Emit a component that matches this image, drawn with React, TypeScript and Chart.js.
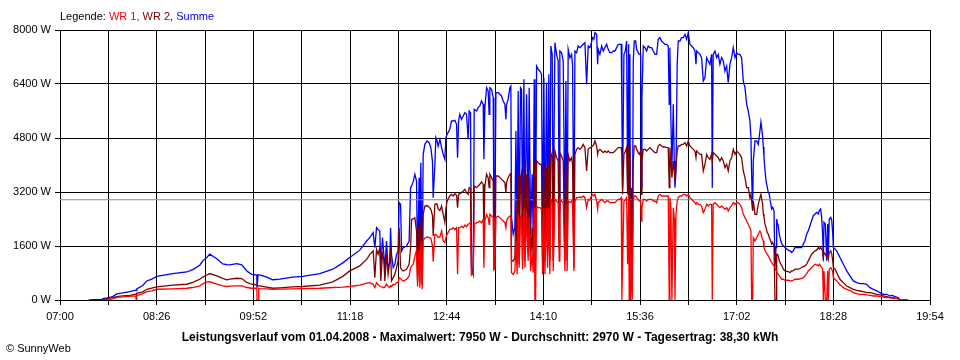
import React, { useEffect, useRef } from "react";
import { Chart, registerables } from "chart.js";

Chart.register(...registerables);

// Time of day in minutes since midnight
const TIMES = [
  445.5, 457.1, 458.9, 462.4, 466.9, 470.5, 475.8, 482.0, 487.4, 487.8,
  488.3, 493.6, 497.2, 501.6, 506.1, 520.3, 532.8, 538.1, 544.3, 547.0,
  550.6, 553.2, 559.5, 564.8, 568.4, 571.0, 577.3, 581.7, 586.2, 590.6,
  595.1, 595.3, 596.2, 596.8, 597.7, 603.9, 609.3, 615.5, 627.1, 636.0,
  651.1, 662.7, 671.6, 677.8, 686.7, 693.0, 695.6, 698.6, 700.1, 701.6,
  703.0, 704.5, 705.4, 706.9, 708.1, 709.0, 710.5, 711.9, 713.4, 714.1,
  714.9, 716.4, 717.9, 719.4, 720.8, 721.7, 723.0, 723.9, 725.3, 728.3,
  730.6, 731.9, 732.8, 734.2, 735.7, 737.2, 738.1, 739.5, 740.1, 741.0,
  742.2, 743.1, 744.6, 746.6, 748.4, 749.9, 751.4, 752.0, 753.5, 754.4,
  755.5, 756.4, 758.0, 759.5, 760.9, 762.4, 763.3, 764.4, 766.8, 768.3,
  769.8, 771.3, 772.8, 773.7, 774.6, 775.7, 777.2, 778.7, 780.2, 781.7,
  783.1, 784.0, 785.2, 786.1, 787.6, 788.5, 790.6, 792.0, 793.5, 795.0,
  796.5, 797.1, 798.0, 799.5, 800.9, 801.8, 802.4, 803.9, 805.4, 806.0,
  806.9, 807.8, 809.8, 811.3, 812.8, 814.3, 815.8, 816.7, 817.3, 818.7,
  820.2, 821.1, 821.7, 823.2, 824.7, 825.6, 826.7, 827.6, 828.5, 829.7,
  830.6, 831.5, 832.7, 833.6, 835.1, 836.5, 837.4, 838.7, 840.1, 841.0,
  841.9, 842.5, 843.1, 844.0, 845.4, 846.9, 848.4, 849.3, 850.5, 851.4,
  852.9, 853.8, 854.9, 855.8, 856.7, 857.9, 858.8, 860.3, 861.8, 863.2,
  864.1, 864.7, 866.2, 867.7, 869.2, 870.1, 871.2, 872.1, 873.6, 875.1,
  876.0, 877.2, 878.1, 879.6, 881.0, 882.5, 884.0, 885.5, 887.0, 888.5,
  889.9, 891.4, 892.1, 893.8, 895.0, 895.9, 897.4, 898.3, 898.8, 900.3,
  901.9, 903.3, 904.8, 906.3, 907.7, 909.2, 910.7, 912.2, 913.7, 915.2,
  916.6, 918.1, 919.3, 919.9, 920.5, 921.7, 922.9, 924.1, 925.0, 925.9,
  926.4, 927.0, 927.6, 928.5, 929.1, 930.0, 930.9, 932.1, 933.0, 934.4,
  935.3, 936.6, 937.1, 937.7, 938.9, 940.4, 941.9, 943.3, 944.8, 946.4,
  947.8, 949.3, 950.8, 952.2, 953.7, 955.2, 956.7, 958.2, 959.7, 961.1,
  962.0, 962.6, 963.5, 964.4, 965.6, 966.5, 967.1, 968.0, 969.1, 970.0,
  971.5, 973.0, 974.5, 976.0, 977.5, 978.9, 980.4, 981.9, 983.4, 984.9,
  985.8, 986.4, 987.8, 989.3, 990.8, 992.3, 993.8, 995.3, 996.7, 998.2,
  999.7, 1000.3, 1001.1, 1002.7, 1004.2, 1005.6, 1007.1, 1008.6, 1010.1, 1011.6,
  1013.1, 1014.5, 1016.0, 1017.5, 1019.0, 1020.5, 1022.0, 1023.4, 1024.9, 1026.4,
  1027.9, 1029.4, 1030.9, 1032.3, 1033.8, 1034.7, 1035.3, 1036.2, 1036.8, 1038.3,
  1039.8, 1041.2, 1042.7, 1043.6, 1044.5, 1045.1, 1045.7, 1046.3, 1047.2, 1048.1,
  1049.2, 1050.1, 1051.0, 1052.3, 1053.1, 1054.0, 1055.2, 1056.1, 1057.0, 1057.6,
  1058.1, 1059.0, 1059.9, 1061.2, 1062.3, 1063.5, 1065.0, 1067.9, 1069.4, 1070.9,
  1072.3, 1073.9, 1076.8, 1079.8, 1081.3, 1082.8, 1084.3, 1085.7, 1087.2, 1088.7,
  1090.2, 1091.7, 1093.2, 1094.6, 1095.5, 1096.7, 1097.6, 1098.5, 1099.1, 1099.7,
  1100.9, 1102.1, 1103.0, 1103.5, 1104.4, 1105.7, 1106.6, 1107.5, 1108.0, 1109.5,
  1111.0, 1112.4, 1113.9, 1115.4, 1116.9, 1119.9, 1122.8, 1125.8, 1128.8, 1131.7,
  1134.7, 1137.7, 1140.6, 1143.6, 1146.6, 1149.5, 1152.5, 1155.5, 1158.4, 1159.9,
  1161.4, 1164.4, 1165.8, 1167.3, 1174.5,
];

// Summe (W)
const SUMME = [
  0, 20, 50, 60, 100, 180, 210, 250, 290, 280,
  330, 430, 565, 620, 700, 780, 830, 900, 1030, 1160,
  1260, 1360, 1220, 1070, 1050, 1040, 1080, 1040, 860, 760,
  740, 366, 744, 744, 744, 680, 600, 620, 680, 700,
  780, 913, 1100, 1258, 1477, 1755, 1847, 1995, 1550, 2143,
  2090, 2040, 958, 1847, 1353, 908, 1748, 958, 1106, 2143,
  1353, 958, 1057, 1353, 1452, 2884, 2835, 1452, 1551, 1600,
  1748, 3328, 3380, 3500, 3723, 3526, 958, 3620, 859, 4069,
  760, 4316, 4612, 4711, 4660, 4514, 4100, 3032, 4000, 4810,
  4711, 4560, 4760, 4514, 4316, 4168, 4810, 4909, 5057, 5304,
  5304, 5324, 5205, 4217, 5304, 5501, 5353, 5452, 5551, 5501,
  4761, 5600, 5551, 958, 760, 5650, 5600, 5699, 5748, 5900,
  5797, 4168, 5699, 6291, 6193, 5501, 6291, 6242, 5995, 2538,
  2341, 6143, 6143, 6094, 6044, 5896, 5797, 5353, 5797, 5946,
  6291, 6341, 2440, 1946, 2143, 5008, 1946, 6193, 1946, 6291,
  6242, 2341, 6538, 1946, 6094, 2242, 6291, 1946, 3723, 1896,
  6538, 1896, 2000, 6933, 6835, 6785, 6687, 1946, 6588, 1848,
  6440, 2341, 6687, 1946, 7526, 7279, 2143, 7624, 7279, 7082,
  2637, 7378, 7329, 7082, 1946, 6489, 1946, 7427, 7180, 7279,
  6983, 1748, 7378, 7329, 7526, 7477, 7526, 7576, 7624, 6390,
  7526, 7477, 7526, 7773, 7724, 7921, 7872, 6983, 7428, 7279,
  7526, 7378, 7477, 7576, 7427, 7329, 7329, 7378, 7378, 7477,
  7576, 7576, 7576, 5501, 3328, 7279, 7378, 7674, 3328, 7576,
  1946, 7279, 760, 3328, 760, 7082, 7674, 7674, 7427, 7329,
  7279, 7279, 3328, 5995, 7526, 7476, 7378, 7526, 7476, 7476,
  7378, 7279, 7279, 7724, 7773, 7674, 7625, 7576, 7576, 7526,
  5798, 7476, 5304, 3921, 5798, 4119, 3328, 3822, 6983, 7674,
  7674, 7773, 7773, 7872, 7724, 7921, 7576, 7526, 7476, 7378,
  6983, 7378, 7329, 7279, 7180, 6489, 6588, 7180, 7082, 6983,
  7279, 3328, 7279, 7378, 7180, 7279, 6983, 7180, 7082, 6785,
  6933, 6440, 6983, 7180, 7476, 7180, 7329, 7279, 7279, 7180,
  6489, 6292, 5798, 5600, 5304, 4810, 3724, 2736, 4119, 4711,
  4711, 4612, 5008, 5274, 5026, 4850, 4530, 4233, 3836, 3539,
  3341, 3192, 3143, 2845, 2696, 2746, 2647, 962, 1557, 2400,
  2300, 2201, 1953, 1755, 1655, 1606, 1556, 1477, 1457, 1408,
  1457, 1556, 1556, 1556, 1655, 1755, 1953, 2052, 2201, 2350,
  2498, 2548, 2597, 2548, 2647, 2696, 2449, 1953, 1160, 2300,
  2250, 1160, 2250, 1259, 2399, 2449, 2350, 1953, 1556, 1507,
  1457, 1358, 1259, 1160, 1061, 862, 714, 565, 515, 486,
  486, 466, 367, 317, 268, 218, 169, 169, 119, 139,
  119, 89, 69, 0, 0,
];

// WR 2 (W)
const WR2 = [
  null, 0, 10, 50, 70, 100, 120, 140, 170, 170,
  200, 240, 318, 350, 387, 440, 467, 520, 615, 680,
  740, 783, 714, 640, 595, 620, 645, 635, 520, 467,
  440, 420, 420, 420, 416, 380, 348, 360, 387, 400,
  440, 540, 700, 862, 1011, 1210, 1353, 1452, 662, 1500,
  1353, 1551, 563, 1353, 1200, 563, 1353, 760, 1156, 1551,
  563, 662, 760, 958, 1156, 2143, 958, 900, 859, 908,
  1057, 1551, 2390, 2400, 2440, 2050, 560, 2140, 500, 2340,
  440, 2540, 2785, 2800, 2750, 2686, 2500, 1900, 2835, 2850,
  2835, 2700, 2650, 2785, 2538, 2300, 2700, 2933, 3082, 3131,
  3082, 3150, 3100, 2736, 3131, 3150, 3180, 3230, 3279, 3180,
  3131, 3328, 3300, 760, 859, 3378, 3328, 3380, 3427, 3500,
  3427, 1946, 3378, 3724, 3625, 3328, 3724, 3625, 3526, 908,
  958, 3674, 3674, 3625, 3575, 3526, 3477, 3180, 3477, 3625,
  3724, 3750, 1156, 1156, 1255, 2933, 1156, 3724, 1057, 3625,
  3773, 1156, 4020, 1156, 3724, 1353, 3625, 1156, 2143, 1156,
  4069, 1156, 1200, 4119, 4069, 4020, 4020, 1255, 4020, 1156,
  3922, 1353, 4020, 1156, 4366, 4217, 1156, 4415, 4217, 4119,
  1551, 4366, 4267, 4119, 1156, 4020, 1156, 4316, 4119, 4217,
  4020, 958, 4316, 4464, 4514, 4464, 4514, 4612, 4514, 3822,
  4464, 4514, 4514, 4563, 4612, 4711, 4563, 4316, 4415, 4464,
  4415, 4366, 4415, 4366, 4415, 4366, 4366, 4366, 4415, 4464,
  4514, 4514, 4514, 4300, 3131, 4316, 4400, 4514, 3131, 4563,
  1748, 4316, 760, 2341, 760, 4119, 4563, 4563, 4464, 4366,
  4316, 4415, 3131, 4119, 4464, 4464, 4415, 4464, 4514, 4464,
  4415, 4366, 4366, 4563, 4612, 4563, 4533, 4533, 4514, 4514,
  3328, 4514, 4119, 3625, 4119, 3822, 3526, 3921, 4415, 4563,
  4563, 4612, 4612, 4662, 4563, 4711, 4563, 4514, 4464, 4415,
  4217, 4415, 4366, 4316, 4316, 3822, 4020, 4316, 4217, 4168,
  4316, 4119, 4366, 4316, 4267, 4217, 4119, 4217, 4119, 3921,
  4020, 3822, 4119, 4217, 4465, 4316, 4415, 4366, 4316, 4217,
  3822, 3625, 3328, 3328, 3032, 3131, 2934, 2637, 2934, 2538,
  2538, 2835, 3032, 3131, 2944, 2850, 2548, 2450, 2250, 2150,
  2002, 1953, 1854, 1755, 1655, 1705, 1606, 0, 0, 1350,
  1358, 1308, 1160, 1061, 1011, 912, 862, 843, 813, 862,
  862, 912, 912, 962, 991, 1011, 1061, 1160, 1259, 1358,
  1408, 1457, 1477, 1556, 1506, 1556, 1506, 1457, 1259, 1408,
  1358, 1259, 1308, 1209, 1408, 1457, 1358, 1160, 962, 912,
  813, 714, 615, 565, 515, 416, 367, 317, 287, 267,
  248, 218, 218, 198, 169, 149, 119, 99, 69, 69,
  69, 50, 30, 0, null,
];

// WR 1 (W)
const WR1 = [
  null, null, 0, 10, 30, 80, 90, 110, 120, 0,
  130, 190, 247, 270, 318, 330, 348, 370, 416, 480,
  535, 540, 467, 420, 400, 410, 420, 416, 370, 348,
  348, 0, 0, 348, 340, 330, 318, 320, 330, 340,
  348, 370, 380, 400, 440, 500, 514, 464, 365, 514,
  450, 415, 400, 380, 365, 380, 465, 400, 365, 420,
  400, 465, 450, 514, 514, 662, 640, 600, 563, 610,
  711, 958, 1000, 1057, 1300, 1470, 400, 1480, 360, 1730,
  320, 1780, 1830, 1867, 1850, 1830, 1600, 1132, 1946, 1946,
  1900, 1850, 1870, 2044, 1750, 1700, 1850, 1946, 2094, 2094,
  2143, 2094, 2143, 760, 2143, 2143, 2190, 2143, 2220, 2170,
  2242, 2260, 2291, 760, 760, 2242, 2291, 2300, 2340, 2291,
  2390, 958, 2341, 2538, 2440, 2242, 2538, 2489, 2440, 908,
  958, 2440, 2489, 2440, 2390, 2341, 2291, 2143, 2341, 2440,
  2489, 2500, 810, 760, 859, 1748, 760, 2538, 958, 2440,
  2538, 908, 2736, 958, 2489, 1156, 2440, 859, 1353, 810,
  2736, 0, 0, 2785, 2736, 2736, 2686, 760, 2736, 760,
  2736, 958, 2736, 760, 2983, 2884, 859, 2983, 2933, 2884,
  1156, 2983, 2933, 2884, 859, 2835, 859, 2933, 2884, 2933,
  2835, 859, 2933, 3032, 3032, 3050, 3032, 3082, 3032, 2736,
  2983, 2960, 3032, 3131, 3082, 3131, 2933, 2694, 2884, 2933,
  2983, 2933, 2884, 2933, 2933, 2884, 2884, 2884, 2884, 2933,
  2983, 2983, 3032, 0, 1057, 2933, 2960, 3032, 1057, 3082,
  0, 2933, 0, 1353, 0, 2933, 3082, 3082, 3032, 2983,
  2933, 2933, 2341, 2736, 2983, 2983, 2933, 2983, 2983, 2983,
  2933, 2933, 2884, 3082, 3131, 3082, 3082, 3082, 3082, 3082,
  0, 3032, 2736, 0, 2736, 2440, 0, 2538, 2933, 3032,
  3082, 3082, 3131, 3131, 3082, 3131, 3032, 2983, 2933, 2884,
  2835, 2884, 2835, 2835, 2785, 2588, 2686, 2835, 2785, 2835,
  2835, 0, 2835, 2884, 2835, 2785, 2736, 2785, 2736, 2686,
  2736, 2637, 2736, 2785, 2884, 2835, 2884, 2884, 2835, 2736,
  2538, 2440, 2341, 2242, 2143, 2044, 0, 0, 1847, 1748,
  1847, 1946, 2044, 1996, 1854, 1800, 1755, 1560, 1457, 1408,
  1358, 1308, 1259, 1160, 1110, 1061, 1011, 962, 862, 840,
  813, 763, 714, 664, 615, 615, 585, 585, 565, 565,
  585, 615, 615, 644, 664, 714, 783, 862, 912, 962,
  1011, 1061, 1041, 1011, 1061, 1011, 962, 912, 0, 862,
  0, 0, 862, 0, 912, 962, 912, 813, 664, 615,
  565, 515, 446, 416, 367, 317, 287, 218, 188, 168,
  168, 149, 139, 119, 119, 99, 89, 69, 69, 59,
  49, 40, 30, 0, null,
];

const AVERAGE_W = 2970;
const X_LABELS = ["07:00", "08:26", "09:52", "11:18", "12:44", "14:10", "15:36", "17:02", "18:28", "19:54"];
const Y_MAX = 8000;
const Y_STEP = 1600;
const TITLE =
  "Leistungsverlauf vom 01.04.2008 - Maximalwert: 7950 W - Durchschnitt: 2970 W - Tagesertrag: 38,30 kWh";

const FONT = "'Liberation Sans', Arial, sans-serif";

function toMin(label: string): number {
  const [h, m] = label.split(":").map(Number);
  return h * 60 + m;
}

export default function App() {
  const canvasRef = useRef<HTMLCanvasElement | null>(null);

  useEffect(() => {
    const canvas = canvasRef.current;
    if (!canvas) return;
    const xMin = toMin(X_LABELS[0]);
    const xMax = toMin(X_LABELS[X_LABELS.length - 1]);
    const series = (arr: (number | null)[]) => TIMES.map((t, i) => ({ x: t, y: arr[i] }));
    const LW = 1.3;

    const chart = new Chart(canvas, {
      type: "line",
      data: {
        datasets: [
          { label: "WR 1", data: series(WR1), borderColor: "#ff0000", borderWidth: LW, pointRadius: 0, tension: 0 },
          { label: "WR 2", data: series(WR2), borderColor: "#800000", borderWidth: LW, pointRadius: 0, tension: 0 },
          {
            label: "Durchschnitt",
            data: [{ x: xMin, y: AVERAGE_W }, { x: xMax, y: AVERAGE_W }],
            borderColor: "#8c8c8c",
            borderWidth: 1,
            pointRadius: 0,
          },
          { label: "Summe", data: series(SUMME), borderColor: "#0000ff", borderWidth: LW, pointRadius: 0, tension: 0 },
        ],
      } as any,
      options: {
        animation: false,
        responsive: false,
        devicePixelRatio: 1,
        events: [],
        layout: { padding: { top: 30, right: 30, left: 0, bottom: 0 } },
        plugins: { legend: { display: false }, tooltip: { enabled: false }, title: { display: false } },
        scales: {
          x: {
            type: "linear",
            min: xMin,
            max: xMax,
            afterBuildTicks: (scale: any) => {
              const vals: number[] = [];
              X_LABELS.forEach((l, i) => {
                vals.push(toMin(l));
                if (i < X_LABELS.length - 1) vals.push((toMin(l) + toMin(X_LABELS[i + 1])) / 2);
              });
              scale.ticks = vals.map((v) => ({ value: v }));
            },
            afterFit: (scale: any) => {
              scale.height = 60;
            },
            ticks: {
              autoSkip: false,
              maxRotation: 0,
              padding: 5,
              color: "#000",
              font: { family: FONT, size: 11 },
              callback: (v: any) => X_LABELS.find((l) => toMin(l) === v) ?? "",
            },
            grid: { color: "#000", lineWidth: 1, drawTicks: true, tickLength: 5, tickColor: "#000" },
            border: { display: true, color: "#000" },
          },
          y: {
            min: 0,
            max: Y_MAX,
            afterFit: (scale: any) => {
              scale.width = 60;
            },
            ticks: {
              stepSize: Y_STEP,
              padding: 4,
              color: "#000",
              font: { family: FONT, size: 11 },
              callback: (v: any) => `${v} W`,
            },
            grid: { color: "#000", lineWidth: 1, drawTicks: true, tickLength: 5, tickColor: "#000" },
            border: { display: true, color: "#000" },
          },
        },
      } as any,
    });
    return () => chart.destroy();
  }, []);

  const textBase: React.CSSProperties = {
    position: "absolute",
    fontFamily: FONT,
    fontSize: 11,
    lineHeight: "13px",
    color: "#000",
    whiteSpace: "nowrap",
  };

  return (
    <div style={{ position: "absolute", left: 0, top: 0, width: 960, height: 360, background: "#fff" }}>
      <canvas ref={canvasRef} width={960} height={360} style={{ position: "absolute", left: 0, top: 0 }} />
      <div style={{ ...textBase, left: 60, top: 10 }}>
        Legende: <span style={{ color: "#ff0000" }}>WR 1,</span>{" "}
        <span style={{ color: "#800000" }}>WR 2,</span> <span style={{ color: "#0000ff" }}>Summe</span>
      </div>
      <div
        style={{
          ...textBase,
          left: 0,
          width: 960,
          top: 330,
          textAlign: "center",
          fontWeight: "bold",
          fontSize: 12,
          lineHeight: "14px",
        }}
      >
        {TITLE}
      </div>
      <div style={{ ...textBase, left: 6, top: 342 }}>© SunnyWeb</div>
    </div>
  );
}
